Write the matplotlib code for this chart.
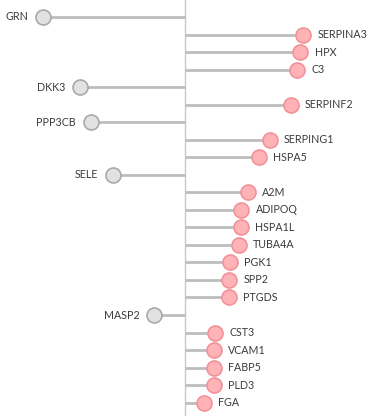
import numpy as np
import matplotlib.pyplot as plt

# genes top to bottom, with fold-change style values (negative = left side)
genes = ["GRN", "SERPINA3", "HPX", "C3", "DKK3", "SERPINF2", "PPP3CB",
         "SERPING1", "HSPA5", "SELE", "A2M", "ADIPOQ", "HSPA1L", "TUBA4A",
         "PGK1", "SPP2", "PTGDS", "MASP2", "CST3", "VCAM1", "FABP5", "PLD3", "FGA"]
values = [-2.84, 2.36, 2.30, 2.23, -2.10, 2.11, -1.89,
          1.69, 1.47, -1.45, 1.25, 1.12, 1.12, 1.07,
          0.89, 0.88, 0.87, -0.62, 0.59, 0.57, 0.57, 0.57, 0.37]

values = np.array(values)
rows = np.arange(len(genes))

fig = plt.figure(figsize=(3.8, 4.16), dpi=100)
ax = fig.add_axes([0, 0, 1, 1])

ax.axvline(0, color="#c8c8c8", lw=1.0, zorder=1)

for r, v, g in zip(rows, values, genes):
    up = v > 0
    face = "#ffb3b6" if up else "#e2e2e2"
    edge = "#f39199" if up else "#a9a9a9"
    ax.plot([0, v], [r, r], color="#bdbdbd", lw=2.0, zorder=2, solid_capstyle="butt")
    ax.plot(v, r, "o", ms=10.8, mfc=face, mec=edge, mew=1.2, zorder=3)
    off = 0.29
    if up:
        ax.text(v + off, r, g, ha="left", va="center", fontsize=7.7,
                color="#3a3a3a", family="Lato")
    else:
        ax.text(v - off, r, g, ha="right", va="center", fontsize=7.7,
                color="#3a3a3a", family="Lato")

ax.set_xlim(-185 / 50, (380 - 185) / 50)
ax.set_ylim((416 - 17) / 17.53, -17 / 17.53)
ax.axis("off")

fig.savefig("out.png", dpi=100)
